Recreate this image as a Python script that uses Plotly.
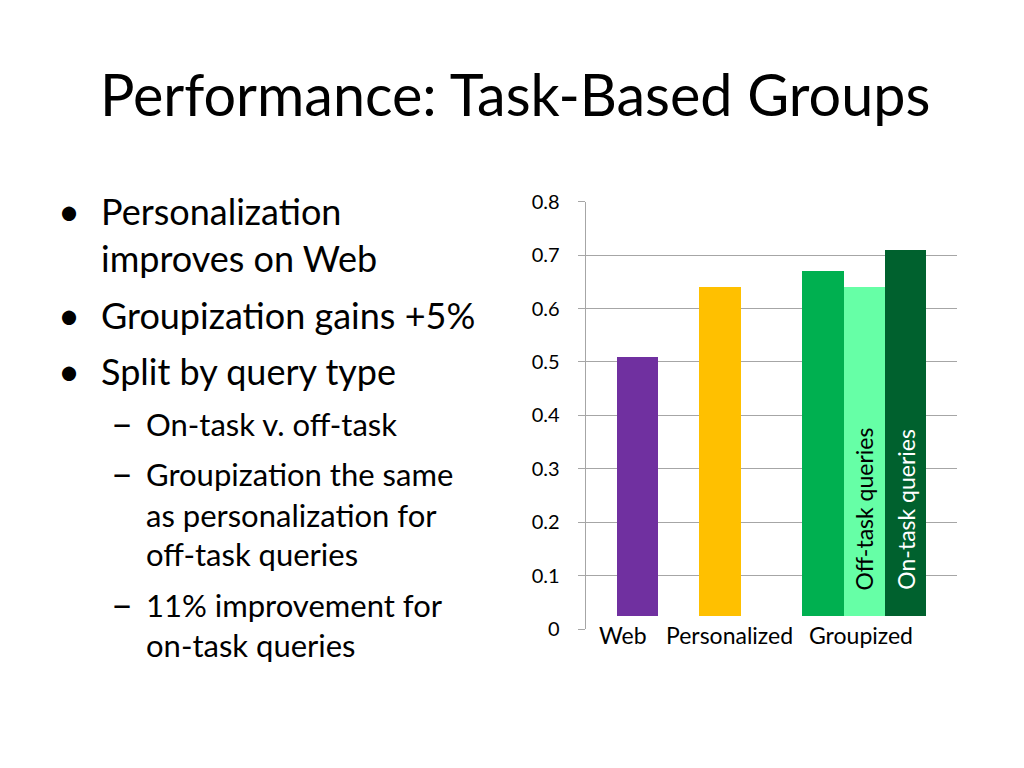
import plotly.graph_objects as go

# ---- data ----
bar_names = ["Web", "Personalized", "Groupized", "Off-task queries", "On-task queries"]
bar_values = [0.51, 0.64, 0.67, 0.64, 0.71]
bar_colors = ["#7030A0", "#FFC000", "#00B050", "#66FFA6", "#00612E"]
category_labels = ["Web", "Personalized", "Groupized"]
y_ticks = [0, 0.1, 0.2, 0.3, 0.4, 0.5, 0.6, 0.7, 0.8]
y_tick_labels = ["0", "0.1", "0.2", "0.3", "0.4", "0.5", "0.6", "0.7", "0.8"]
inside_labels = ["", "", "", "Off-task queries", "On-task queries"]
inside_label_colors = ["black", "black", "black", "black", "white"]

title_text = "Performance: Task-Based Groups"
bullets = [
    (1, "Personalization", True),
    (1, "improves on Web", False),
    (1, "Groupization gains +5%", True),
    (1, "Split by query type", True),
    (2, "On-task v. off-task", True),
    (2, "Groupization the same", True),
    (2, "as personalization for", False),
    (2, "off-task queries", False),
    (2, "11% improvement for", True),
    (2, "on-task queries", False),
]

# ---- layout helpers (positions, not data) ----
W, H = 1024, 768
OFF = 8  # page body margin shifts the figure by 8px
FONT = "Lato"


def pxx(px):
    return (px - OFF) / W


def pxy(py):
    return 1 - (py - OFF) / H


bar_slots = [0, 2, 4.5, 5.5, 6.5]
label_slots = [-0.357, 2.245, 5.42]
bar_base = 0.026
x_range = [-1.25, 7.75]
line_y = [210.5, 257.5, 315, 371, 424, 474, 515, 554, 605, 645]

fig = go.Figure()
fig.add_trace(go.Bar(
    x=bar_slots,
    y=[v - bar_base for v in bar_values],
    base=bar_base,
    width=1.0,
    marker=dict(color=bar_colors, line=dict(width=0)),
    hovertext=bar_names,
    showlegend=False,
))

annotations = []
for slot, txt, col in zip(bar_slots, inside_labels, inside_label_colors):
    if txt:
        annotations.append(dict(
            x=slot, y=(629.1 - 592) / 534.3, xref="x", yref="y", text=txt, textangle=-90,
            showarrow=False, xanchor="center", yanchor="bottom",
            font=dict(family=FONT, size=23, color=col),
        ))

for slot, txt in zip(label_slots, category_labels):
    annotations.append(dict(
        x=slot, y=pxy(635), xref="x", yref="paper", text=txt,
        showarrow=False, xanchor="center", yanchor="middle",
        font=dict(family=FONT, size=23, color="black"),
    ))

annotations.append(dict(
    x=pxx(514.5), y=pxy(94), xref="paper", yref="paper", text=title_text,
    showarrow=False, xanchor="center", yanchor="middle",
    font=dict(family=FONT, size=57.5, color="black"),
))

for (lvl, txt, marker), py in zip(bullets, line_y):
    if lvl == 1:
        tx, fs = 99, 36
        mx, my, sym, mfs = 69, py - 1, "•", 38
    else:
        tx, fs = 143.5, 31
        mx, my, sym, mfs = 122, py - 2, "–", 38
    annotations.append(dict(
        x=pxx(tx), y=pxy(py), xref="paper", yref="paper", text=txt,
        showarrow=False, xanchor="left", yanchor="middle",
        font=dict(family=FONT, size=fs, color="black"),
    ))
    if marker:
        annotations.append(dict(
            x=pxx(mx), y=pxy(my), xref="paper", yref="paper", text=sym,
            showarrow=False, xanchor="center", yanchor="middle",
            font=dict(family=FONT, size=mfs, color="black"),
        ))

fig.update_layout(
    width=W, height=H,
    margin=dict(l=0, r=0, t=0, b=0),
    paper_bgcolor="white", plot_bgcolor="white",
    annotations=annotations,
    bargap=0,
    xaxis=dict(
        domain=[pxx(585.7), pxx(956.7)], range=x_range,
        showticklabels=False,
        showgrid=False, zeroline=False, showline=False, ticks="",
        automargin=False, fixedrange=True,
    ),
    yaxis=dict(
        domain=[pxy(629.1), pxy(201.7)], range=[0, 0.8],
        tickvals=y_ticks, ticktext=y_tick_labels,
        tickfont=dict(family=FONT, size=20, color="black"),
        showgrid=True, gridcolor="#A6A6A6", gridwidth=1,
        zeroline=False, showline=True, linecolor="#A6A6A6", linewidth=1,
        ticks="outside", ticklen=7, tickcolor="#A6A6A6",
        ticklabelstandoff=14,
        automargin=False, fixedrange=True,
    ),
)

fig.write_html("out.html")
